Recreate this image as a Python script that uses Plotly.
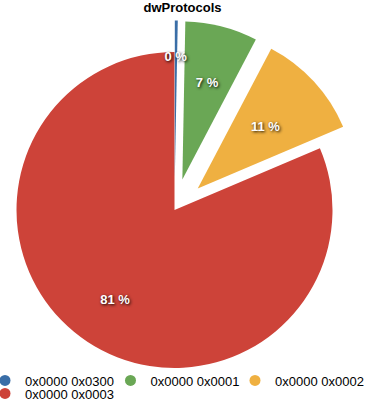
import math
import plotly.graph_objects as go

title = "dwProtocols"
labels = ["0x0000 0x0300", "0x0000 0x0001", "0x0000 0x0002", "0x0000 0x0003"]
values = [0.3, 7.4, 10.9, 81.4]
colors = ["#3a6ea7", "#6aa755", "#efb041", "#cd4339"]
pulls = [0.2, 0.2, 0.2, 0.0]

W, H = 365, 401
CX, CY, R = 174.5, 210, 158          # pie centre / radius in px
TEXT_R = 0.78                        # radius factor used to place small-slice labels
RED_TEXT_HOLE = 0.36                 # ring used to place the big slice's label
TRANSPARENT = "rgba(0,0,0,0)"

total = sum(values)
texts = [f"{round(v / total * 100)} %" for v in values]

bisect = []
cum = 0.0
for v in values:
    bisect.append((cum + v / 2) / total * 2 * math.pi)
    cum += v

TEXTFONT = dict(family="Liberation Sans", size=13, color="white", weight="bold",
                shadow="1px 1px 3px rgba(0,0,0,0.95)")


def pie_trace(i, radius, show_colour, show_text, hole=0):
    d = pulls[i] * R
    cx = CX + d * math.sin(bisect[i])
    cy = CY - d * math.cos(bisect[i])
    cols = [colors[j] if (j == i and show_colour) else TRANSPARENT for j in range(len(values))]
    txt = [texts[j] if (j == i and show_text) else "" for j in range(len(values))]
    return go.Pie(
        labels=labels, values=values, text=txt, textinfo="text",
        textposition="inside", insidetextorientation="horizontal",
        sort=False, direction="clockwise", rotation=0, hole=hole,
        marker=dict(colors=cols, line=dict(width=0)),
        textfont=TEXTFONT,
        domain=dict(x=[(cx - radius) / W, (cx + radius) / W],
                    y=[(H - cy - radius) / H, (H - cy + radius) / H]),
        showlegend=False, hoverinfo="skip",
    )


fig = go.Figure()
# slices
fig.add_trace(pie_trace(3, R, True, False))
for i in [0, 1, 2]:
    fig.add_trace(pie_trace(i, R, True, False))
# labels
fig.add_trace(pie_trace(3, R, False, True, hole=RED_TEXT_HOLE))
for i in [0, 1, 2]:
    fig.add_trace(pie_trace(i, R * TEXT_R, False, True))

legend_pos = [(-15, 380.5), (110.5, 380.5), (235, 380.5), (-15, 393.5)]
legend_names = ["legend", "legend2", "legend3", "legend4"]
for lab, col, lg in zip(labels, colors, legend_names):
    fig.add_trace(go.Scatter(
        x=[None], y=[None], mode="markers", name=lab, legend=lg,
        marker=dict(color=col, size=11, symbol="circle"),
    ))

layout_legends = {}
for lg, (lx, ly) in zip(legend_names, legend_pos):
    layout_legends[lg] = dict(
        orientation="h", x=lx / W, xanchor="left", y=1 - ly / H, yanchor="middle",
        font=dict(family="Liberation Sans", size=13, color="black"),
        bgcolor="rgba(0,0,0,0)", borderwidth=0,
    )

fig.update_layout(
    width=W, height=H,
    margin=dict(l=0, r=0, t=0, b=0, autoexpand=False),
    paper_bgcolor="white", plot_bgcolor="white",
    font=dict(family="Liberation Sans", size=13, color="black"),
    title=dict(text="<b>" + title + "</b>", x=0.5, xanchor="center",
               y=1 - 7 / H, yanchor="middle", yref="container",
               font=dict(family="Liberation Sans", size=13, color="black")),
    uniformtext=dict(minsize=13, mode="show"),
    xaxis=dict(visible=False), yaxis=dict(visible=False),
    **layout_legends,
)
fig.write_html("out.html", config={"displayModeBar": False},
               post_script="document.body.style.margin='0';")
